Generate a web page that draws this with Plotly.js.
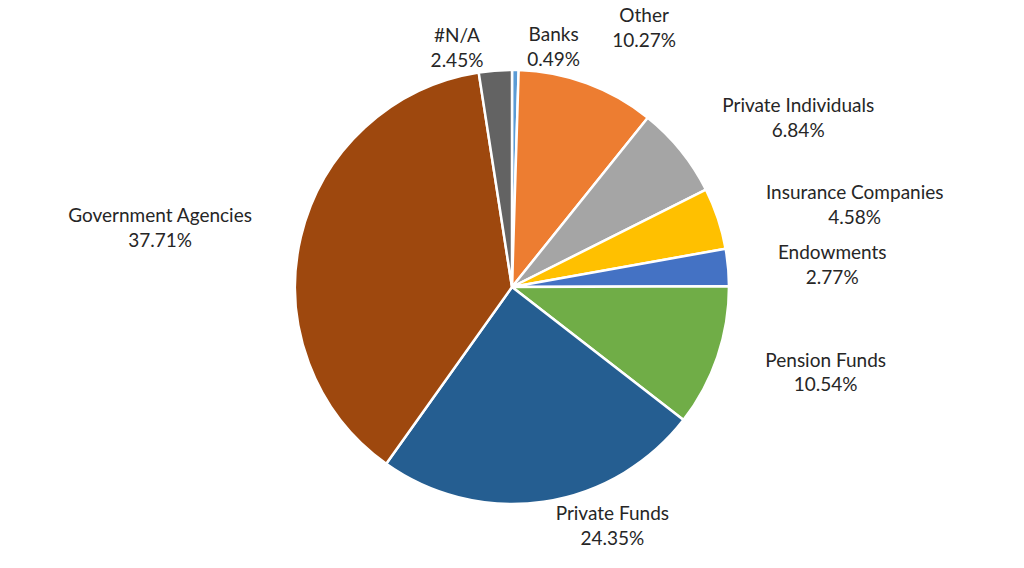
<!DOCTYPE html>
<html>
<head>
<meta charset="utf-8">
<script src="https://cdn.plot.ly/plotly-3.0.1.min.js"></script>
<style>html,body{margin:0;padding:0;background:#fff;}#chart{width:1024px;height:568px;}</style>
</head>
<body>
<div id="chart"></div>
<script>
var labels = ["Banks", "Other", "Private Individuals", "Insurance Companies", "Endowments", "Pension Funds", "Private Funds", "Government Agencies", "#N/A"];
var values = [0.49, 10.27, 6.84, 4.58, 2.77, 10.54, 24.35, 37.71, 2.45];
var colors = ["#5B9BD5", "#ED7D31", "#A5A5A5", "#FFC000", "#4472C4", "#70AD47", "#255E91", "#9E480E", "#636363"];

var FONT = "Lato, 'Open Sans', sans-serif";
var TPL = "%{label}<br>%{percent:.2%}";
// which labels sit on the wider ring (side slices) vs next to the pie (top/bottom slices)
var outerRing = [false, true, true, true, true, true, false, true, false];

// invisible, larger pie that only carries the side labels
var labelTrace = {
  type: "pie",
  labels: labels,
  values: values,
  sort: false,
  direction: "clockwise",
  rotation: 0,
  domain: {x: [0.25098, 0.74902], y: [0.04577, 0.94366]},
  marker: {colors: labels.map(function () { return "rgba(0,0,0,0)"; }), line: {width: 0}},
  textposition: outerRing.map(function (o) { return o ? "outside" : "none"; }),
  texttemplate: outerRing.map(function (o) { return o ? TPL : ""; }),
  textfont: {family: FONT, size: 19, color: "#262626"},
  hoverinfo: "skip",
  showlegend: false,
  automargin: false
};

var pieTrace = {
  type: "pie",
  labels: labels,
  values: values,
  sort: false,
  direction: "clockwise",
  rotation: 0,
  domain: {x: [0.28809, 0.71191], y: [0.11268, 0.87676]},
  marker: {colors: colors, line: {color: "#ffffff", width: 2.5}},
  textposition: outerRing.map(function (o) { return o ? "none" : "outside"; }),
  texttemplate: outerRing.map(function (o) { return o ? "" : TPL; }),
  textfont: {family: FONT, size: 19, color: "#262626"},
  hoverinfo: "label+percent",
  showlegend: false,
  automargin: false
};

var layout = {
  width: 1024,
  height: 568,
  margin: {l: 0, r: 0, t: 0, b: 0},
  paper_bgcolor: "#ffffff",
  plot_bgcolor: "#ffffff",
  showlegend: false,
  font: {family: FONT, color: "#262626"}
};

Plotly.newPlot("chart", [labelTrace, pieTrace], layout, {displayModeBar: false, staticPlot: true});
</script>
</body>
</html>
